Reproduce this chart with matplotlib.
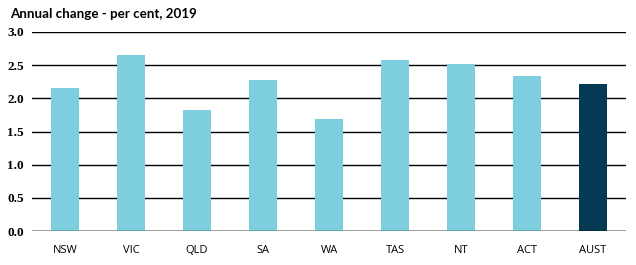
import numpy as np
import matplotlib.pyplot as plt

# annual change by state, 2019
states = ['NSW', 'VIC', 'QLD', 'SA', 'WA', 'TAS', 'NT', 'ACT', 'AUST']
change = [2.15, 2.66, 1.83, 2.28, 1.69, 2.58, 2.52, 2.33, 2.22]
y_ticks = [0.0, 0.5, 1.0, 1.5, 2.0, 2.5, 3.0]

light = '#7dcfe0'
dark = '#053a55'
colors = [light] * (len(states) - 1) + [dark]

fig = plt.figure(figsize=(6.36, 2.65), dpi=100)
ax = fig.add_axes([32 / 636, 34 / 265, 594 / 636, 199 / 265])

x = np.arange(len(states))
ax.bar(x, change, width=0.41, color=colors, zorder=3)

ax.set_xlim(-0.5, len(states) - 0.5)
ax.set_ylim(0, 3.0)
ax.set_yticks(y_ticks)
ax.set_yticklabels([f'{v:.1f}' for v in y_ticks],
                   fontfamily='Liberation Serif', fontweight='bold', fontsize=9.5)
ax.set_xticks(x)
ax.set_xticklabels(states, fontfamily='Open Sans', fontsize=8)

ax.grid(axis='y', color='black', linewidth=1.0, zorder=0)
for s in ['top', 'right', 'left', 'bottom']:
    ax.spines[s].set_visible(False)
ax.axhline(0, color='black', linewidth=1.0, zorder=4)
ax.tick_params(axis='both', length=0)
ax.tick_params(axis='x', pad=10)
ax.tick_params(axis='y', pad=6)

fig.text(10 / 636, 1 - 14 / 265, 'Annual change - per cent, 2019',
         fontfamily='Lato', fontweight='bold', fontsize=9.6, va='center')

fig.savefig('out.png', dpi=100)
